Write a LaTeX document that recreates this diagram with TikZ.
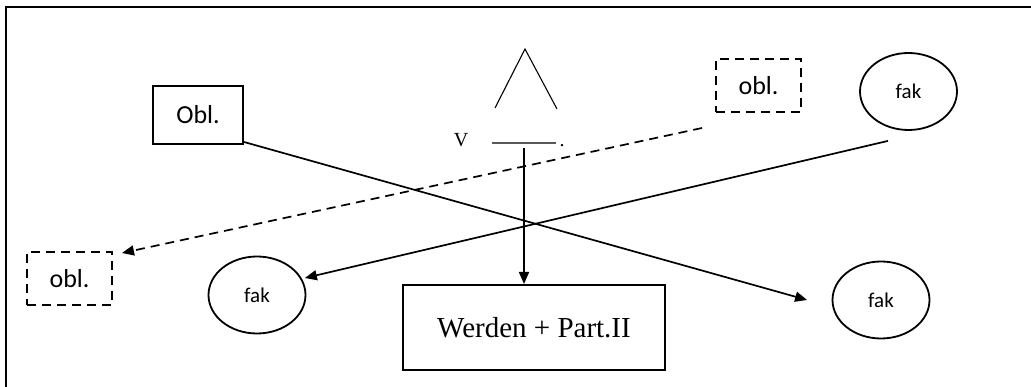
\documentclass[tikz,border=0pt]{standalone}
\usepackage{fontspec}
\setmainfont{Liberation Serif}
\newfontfamily\calibri{Carlito}
\usetikzlibrary{positioning,arrows.meta,shapes.geometric}
\tikzset{
  oblbox/.style={draw, line width=2pt, minimum width=90pt, minimum height=58pt,
                 inner sep=0pt, font=\calibri\fontsize{26}{30}\selectfont},
  optbox/.style={oblbox, dash pattern=on 9pt off 6pt, minimum width=85pt, minimum height=53pt},
  fakell/.style={draw, ellipse, line width=1.8pt, minimum width=97pt, minimum height=77pt,
                 inner sep=0pt, font=\calibri\fontsize{21}{24}\selectfont},
  flow/.style={-{Triangle[length=12pt,width=10pt]}, line width=1.7pt},
}

\begin{document}
\begin{tikzpicture}[x=1pt,y=-1pt]
  \useasboundingbox (0,0) rectangle (1031,387);
  \draw[line width=2.2pt] (6,387)--(6,7)--(1031,7);

  \node[oblbox] (obl) at (198,115) {Obl.};
  \node[optbox] (optR) at (758.5,85.5) {obl.};
  \node[fakell] (fakR) at (908.5,91.5) {fak};

  \coordinate (apex) at (525,49);
  \draw[line width=1.1pt] (495,108)--(apex)--(557,109);
  \node[inner sep=0pt, font=\fontsize{20}{24}\selectfont] (verb) at (461,140) {V};
  \node[inner sep=0pt, minimum width=64pt] (slot) at (524,143) {};
  \draw[line width=1.4pt, black!65] (slot.west)--(slot.east);
  \node[inner sep=0pt, font=\fontsize{20}{24}\selectfont]
    (dot) at ([xshift=6pt,yshift=-3pt]slot.east) {.};

  \node[draw, line width=2pt, minimum width=262pt, minimum height=85pt,
        font=\fontsize{29}{34}\selectfont] (werden) at (534,327.5) {Werden + Part.II};

  \node[optbox] (optL) at (69.5,278.5) {obl.};
  \node[fakell] (fakL) at (257,295) {fak};
  \node[fakell] (fakB) at (881,300) {fak};

  \draw[flow] ([yshift=3pt]obl.south east) -- ([xshift=-24.5pt]fakB.west);
  \draw[flow] ([xshift=-20.5pt,yshift=-10pt]fakR.south) -- ([xshift=-1.5pt,yshift=17pt]fakL.east);
  \draw[flow, dash pattern=on 9pt off 6pt] ([xshift=-13pt,yshift=-15pt]optR.south west)
       -- ([xshift=9pt,yshift=-2pt]optL.north east);
  \draw[flow] ([yshift=-5pt]slot.center) -- (werden.north -| slot);
\end{tikzpicture}
\end{document}
